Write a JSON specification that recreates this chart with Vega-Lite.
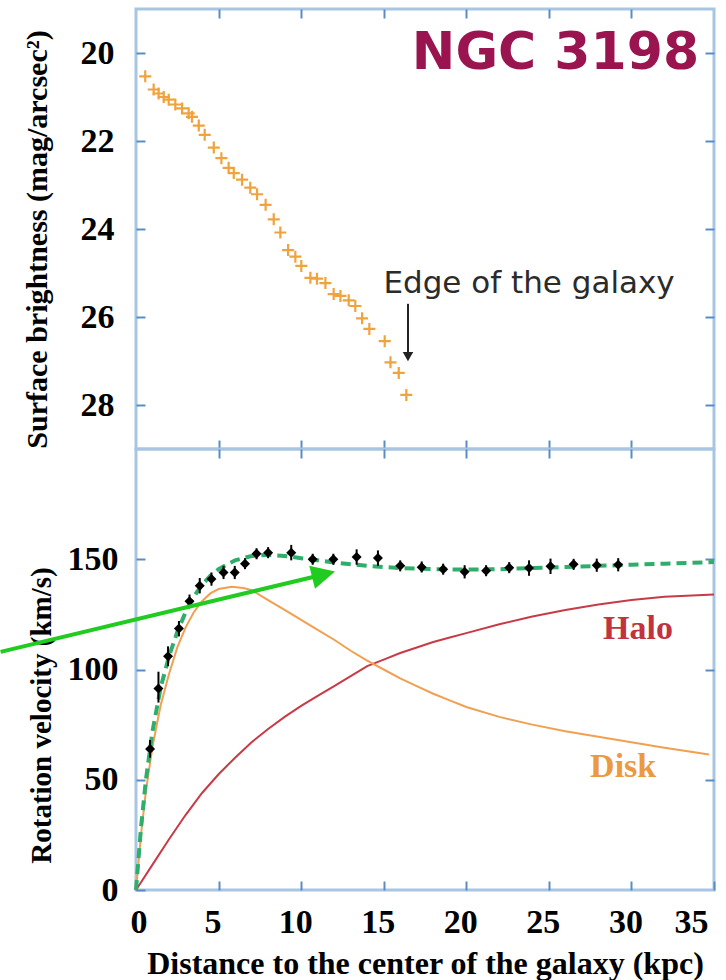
{
  "$schema": "https://vega.github.io/schema/vega-lite/v6.json",
  "padding": {"left": -9, "top": 6, "right": 0, "bottom": 0},
  "spacing": 0,
  "bounds": "flush",
  "config": {
    "view": {"stroke": "#a8c5e3", "strokeWidth": 3},
    "axis": {
      "domain": false, "grid": false,
      "tickColor": "#5a8cc4", "tickWidth": 2, "tickSize": -9,
      "labelFont": "Liberation Serif", "labelFontWeight": "bold", "labelFontSize": 34, "labelColor": "#000000",
      "titleFont": "Liberation Serif", "titleFontWeight": "bold", "titleFontSize": 30, "titleColor": "#000000"
    }
  },
  "datasets": {
    "sb": [
      {"r": 0.56, "mu": 20.53}, {"r": 1.07, "mu": 20.83}, {"r": 1.37, "mu": 20.92}, {"r": 1.68, "mu": 21.0},
      {"r": 1.98, "mu": 21.06}, {"r": 2.38, "mu": 21.17}, {"r": 2.79, "mu": 21.26}, {"r": 3.19, "mu": 21.37},
      {"r": 3.39, "mu": 21.45}, {"r": 3.8, "mu": 21.65}, {"r": 4.16, "mu": 21.86}, {"r": 4.71, "mu": 22.15},
      {"r": 5.17, "mu": 22.39}, {"r": 5.61, "mu": 22.61}, {"r": 5.92, "mu": 22.73}, {"r": 6.42, "mu": 22.88},
      {"r": 6.92, "mu": 23.06}, {"r": 7.33, "mu": 23.21}, {"r": 7.85, "mu": 23.45}, {"r": 8.34, "mu": 23.78},
      {"r": 8.74, "mu": 24.08}, {"r": 9.21, "mu": 24.48}, {"r": 9.65, "mu": 24.63}, {"r": 10.01, "mu": 24.84},
      {"r": 10.56, "mu": 25.11}, {"r": 10.96, "mu": 25.13}, {"r": 11.47, "mu": 25.23}, {"r": 11.97, "mu": 25.48},
      {"r": 12.38, "mu": 25.52}, {"r": 12.88, "mu": 25.62}, {"r": 13.28, "mu": 25.75}, {"r": 13.69, "mu": 26.03},
      {"r": 14.13, "mu": 26.27}, {"r": 15.06, "mu": 26.55}, {"r": 15.41, "mu": 27.03}, {"r": 15.91, "mu": 27.27},
      {"r": 16.37, "mu": 27.77}
    ],
    "vel": [
      {"r": 0.85, "v": 64, "lo": 60, "hi": 68}, {"r": 1.36, "v": 91.4, "lo": 85, "hi": 99},
      {"r": 1.94, "v": 106, "lo": 101.5, "hi": 110.5}, {"r": 2.6, "v": 118.6, "lo": 115, "hi": 122},
      {"r": 3.24, "v": 131, "lo": 128, "hi": 134}, {"r": 3.86, "v": 138, "lo": 134.5, "hi": 141.5},
      {"r": 4.57, "v": 141, "lo": 138, "hi": 144}, {"r": 5.3, "v": 144, "lo": 141, "hi": 147},
      {"r": 5.98, "v": 144, "lo": 141, "hi": 147}, {"r": 6.6, "v": 148, "lo": 145.5, "hi": 150.5},
      {"r": 7.3, "v": 152.5, "lo": 150, "hi": 155}, {"r": 8.0, "v": 153, "lo": 150.5, "hi": 155.5},
      {"r": 9.4, "v": 153, "lo": 149.5, "hi": 156.5}, {"r": 10.7, "v": 150, "lo": 147.5, "hi": 152.5},
      {"r": 11.95, "v": 150, "lo": 147.5, "hi": 152.5}, {"r": 13.36, "v": 151, "lo": 147.5, "hi": 154.5},
      {"r": 14.65, "v": 150.6, "lo": 147, "hi": 154}, {"r": 16.0, "v": 147, "lo": 144.5, "hi": 149.5},
      {"r": 17.3, "v": 146.4, "lo": 144, "hi": 149}, {"r": 18.6, "v": 145.5, "lo": 143, "hi": 148},
      {"r": 19.9, "v": 144.3, "lo": 141.3, "hi": 147.3}, {"r": 21.2, "v": 144.8, "lo": 142.3, "hi": 147.3},
      {"r": 22.6, "v": 146.2, "lo": 143.7, "hi": 148.7}, {"r": 23.8, "v": 146, "lo": 142.5, "hi": 149.5},
      {"r": 25.1, "v": 146.8, "lo": 143.3, "hi": 150.3}, {"r": 26.5, "v": 147.7, "lo": 145.2, "hi": 150.2},
      {"r": 27.9, "v": 147.3, "lo": 144.3, "hi": 150.3}, {"r": 29.2, "v": 147.5, "lo": 144.5, "hi": 150.5}
    ],
    "halo": [
      {"r": 0, "v": 0}, {"r": 1, "v": 11.5}, {"r": 2, "v": 23}, {"r": 3, "v": 34}, {"r": 4, "v": 44},
      {"r": 5, "v": 52.5}, {"r": 6, "v": 60}, {"r": 7, "v": 67}, {"r": 8, "v": 73}, {"r": 9, "v": 78.5},
      {"r": 10, "v": 83.5}, {"r": 11, "v": 88}, {"r": 12, "v": 92.5}, {"r": 13, "v": 97}, {"r": 14, "v": 101.5},
      {"r": 15, "v": 104.5}, {"r": 16, "v": 107.5}, {"r": 17, "v": 110}, {"r": 18, "v": 112.5}, {"r": 19, "v": 114.5},
      {"r": 20, "v": 116.5}, {"r": 22, "v": 120.5}, {"r": 24, "v": 124}, {"r": 26, "v": 127}, {"r": 28, "v": 129.5},
      {"r": 30, "v": 131.5}, {"r": 32, "v": 133}, {"r": 35, "v": 134}
    ],
    "disk": [
      {"r": 0, "v": 0}, {"r": 0.3, "v": 25}, {"r": 0.6, "v": 45}, {"r": 1, "v": 65}, {"r": 1.5, "v": 84},
      {"r": 2, "v": 98}, {"r": 2.5, "v": 110}, {"r": 3, "v": 119}, {"r": 3.5, "v": 126}, {"r": 4, "v": 131},
      {"r": 4.5, "v": 134.5}, {"r": 5, "v": 136.5}, {"r": 5.8, "v": 137.5}, {"r": 6.5, "v": 137}, {"r": 7, "v": 136},
      {"r": 8, "v": 131.5}, {"r": 9, "v": 127}, {"r": 10, "v": 122.5}, {"r": 11, "v": 118}, {"r": 12, "v": 113.5},
      {"r": 13, "v": 108.5}, {"r": 14, "v": 104}, {"r": 15, "v": 100}, {"r": 16, "v": 96}, {"r": 17, "v": 92.5},
      {"r": 18, "v": 89}, {"r": 19, "v": 86}, {"r": 20, "v": 83}, {"r": 22, "v": 78.5}, {"r": 24, "v": 75},
      {"r": 26, "v": 72}, {"r": 28, "v": 69.5}, {"r": 30, "v": 67}, {"r": 32, "v": 64.5}, {"r": 34.7, "v": 61.5}
    ],
    "fit": [
      {"r": 0, "v": 0}, {"r": 0.3, "v": 28}, {"r": 0.6, "v": 50}, {"r": 1, "v": 72}, {"r": 1.5, "v": 92},
      {"r": 2, "v": 106}, {"r": 2.5, "v": 117}, {"r": 3, "v": 126}, {"r": 3.5, "v": 133}, {"r": 4, "v": 138.5},
      {"r": 4.5, "v": 142.5}, {"r": 5, "v": 145.5}, {"r": 6, "v": 149.5}, {"r": 7, "v": 151.5}, {"r": 8, "v": 152},
      {"r": 9, "v": 151.5}, {"r": 10, "v": 150.5}, {"r": 11, "v": 149.5}, {"r": 12, "v": 148.5}, {"r": 14, "v": 147},
      {"r": 16, "v": 146}, {"r": 18, "v": 145.5}, {"r": 20, "v": 145.3}, {"r": 22, "v": 145.5}, {"r": 24, "v": 146},
      {"r": 26, "v": 146.5}, {"r": 28, "v": 147}, {"r": 30, "v": 147.5}, {"r": 32, "v": 148}, {"r": 35, "v": 148.7}
    ],
    "arrow": [{"r": -8.2, "v": 108.0}, {"r": 11.36, "v": 143.1}],
    "arrowhead": [{"r": 11.36, "v": 143.1}],
    "complabels": [
      {"r": 30.4, "v": 118.5, "t": "Halo", "c": "Halo"},
      {"r": 29.5, "v": 56, "t": "Disk", "c": "Disk"}
    ],
    "title": [{"r": 25.4, "mu": 20.0, "t": "NGC 3198"}],
    "edge": [{"r": 23.8, "mu": 25.25, "t": "Edge of the galaxy"}],
    "edgearrow": [{"r": 16.47, "mu": 25.7, "mu2": 26.8}],
    "edgehead": [{"r": 16.47, "mu": 26.9}]
  },
  "vconcat": [
    {
      "width": 578,
      "height": 440,
      "layer": [
        {
          "data": {"name": "sb"},
          "mark": {"type": "point", "shape": "M-1,0L1,0M0,-1L0,1", "filled": false, "stroke": "#f0a23c", "strokeWidth": 2.2, "size": 144, "opacity": 1},
          "encoding": {
            "x": {"field": "r", "type": "quantitative", "scale": {"domain": [0, 35], "nice": false, "zero": false},
                  "axis": {"orient": "bottom", "values": [5, 10, 15, 20, 25, 30], "labels": false, "title": null}},
            "y": {"field": "mu", "type": "quantitative", "scale": {"domain": [19, 29], "reverse": true, "nice": false, "zero": false},
                  "axis": {"orient": "left", "values": [20, 22, 24, 26, 28], "title": "Surface brightness (mag/arcsec²)", "labelPadding": 31, "titlePadding": 28, "titleY": 230}}
          }
        },
        {
          "data": {"name": "title"},
          "mark": {"type": "text", "font": "DejaVu Sans", "fontWeight": "bold", "fontSize": 52, "color": "#9a1550", "align": "center", "baseline": "middle"},
          "encoding": {
            "x": {"field": "r", "type": "quantitative", "axis": {"orient": "top", "values": [5, 10, 15, 20, 25, 30], "labels": false, "title": null}},
            "y": {"field": "mu", "type": "quantitative", "axis": {"orient": "right", "values": [20, 22, 24, 26, 28], "labels": false, "title": null}},
            "text": {"field": "t"}
          }
        },
        {
          "data": {"name": "edge"},
          "mark": {"type": "text", "font": "DejaVu Sans", "fontSize": 31, "color": "#2b2b2b", "align": "center", "baseline": "middle"},
          "encoding": {
            "x": {"field": "r", "type": "quantitative", "axis": null},
            "y": {"field": "mu", "type": "quantitative", "axis": null},
            "text": {"field": "t"}
          }
        },
        {
          "data": {"name": "edgearrow"},
          "mark": {"type": "rule", "color": "#222222", "strokeWidth": 2},
          "encoding": {
            "x": {"field": "r", "type": "quantitative", "axis": null},
            "y": {"field": "mu", "type": "quantitative", "axis": null},
            "y2": {"field": "mu2"}
          }
        },
        {
          "data": {"name": "edgehead"},
          "mark": {"type": "point", "shape": "triangle-down", "filled": true, "color": "#222222", "size": 110, "opacity": 1},
          "encoding": {
            "x": {"field": "r", "type": "quantitative", "axis": null},
            "y": {"field": "mu", "type": "quantitative", "axis": null}
          }
        }
      ],
      "resolve": {"axis": {"x": "independent", "y": "independent"}}
    },
    {
      "width": 578,
      "height": 441,
      "layer": [
        {
          "data": {"name": "halo"},
          "mark": {"type": "line", "color": "#c83a46", "strokeWidth": 2},
          "encoding": {
            "x": {"field": "r", "type": "quantitative", "scale": {"domain": [0, 35], "nice": false, "zero": false},
                  "axis": {"orient": "bottom", "values": [0, 5, 10, 15, 20, 25, 30, 35], "title": "Distance to the center of the galaxy (kpc)", "labelPadding": 24, "labelOffset": -6, "titlePadding": 9, "titleFontSize": 32}},
            "y": {"field": "v", "type": "quantitative", "scale": {"domain": [0, 200], "nice": false},
                  "axis": {"orient": "left", "values": [0, 50, 100, 150], "title": "Rotation velocity (km/s)", "labelPadding": 27, "titlePadding": 11, "titleFontSize": 29, "titleY": 266}}
          }
        },
        {
          "data": {"name": "disk"},
          "mark": {"type": "line", "color": "#f0a050", "strokeWidth": 2},
          "encoding": {
            "x": {"field": "r", "type": "quantitative", "axis": null},
            "y": {"field": "v", "type": "quantitative", "axis": null}
          }
        },
        {
          "data": {"name": "fit"},
          "mark": {"type": "line", "color": "#2fae6b", "strokeWidth": 4, "strokeDash": [10, 6]},
          "encoding": {
            "x": {"field": "r", "type": "quantitative", "axis": null},
            "y": {"field": "v", "type": "quantitative", "axis": null}
          }
        },
        {
          "data": {"name": "vel"},
          "mark": {"type": "rule", "color": "#000000", "strokeWidth": 2},
          "encoding": {
            "x": {"field": "r", "type": "quantitative", "axis": null},
            "y": {"field": "lo", "type": "quantitative", "axis": null},
            "y2": {"field": "hi"}
          }
        },
        {
          "data": {"name": "vel"},
          "mark": {"type": "point", "shape": "diamond", "filled": true, "color": "#000000", "size": 100, "opacity": 1},
          "encoding": {
            "x": {"field": "r", "type": "quantitative", "axis": null},
            "y": {"field": "v", "type": "quantitative", "axis": null}
          }
        },
        {
          "data": {"name": "complabels"},
          "mark": {"type": "text", "font": "Liberation Serif", "fontWeight": "bold", "fontSize": 34, "align": "center", "baseline": "middle"},
          "encoding": {
            "x": {"field": "r", "type": "quantitative", "axis": {"orient": "top", "values": [5, 10, 15, 20, 25, 30], "labels": false, "title": null}},
            "y": {"field": "v", "type": "quantitative", "axis": {"orient": "right", "values": [50, 100, 150], "labels": false, "title": null}},
            "text": {"field": "t"},
            "color": {"field": "c", "type": "nominal", "scale": {"domain": ["Halo", "Disk"], "range": ["#c0333f", "#eb9a3f"]}, "legend": null}
          }
        },
        {
          "data": {"name": "arrow"},
          "mark": {"type": "line", "color": "#1fcc1f", "strokeWidth": 4},
          "encoding": {
            "x": {"field": "r", "type": "quantitative", "axis": null},
            "y": {"field": "v", "type": "quantitative", "axis": null}
          }
        },
        {
          "data": {"name": "arrowhead"},
          "mark": {"type": "point", "shape": "M-1,-1L1,0L-1,1Z", "filled": true, "color": "#1fcc1f", "size": 560, "angle": 346, "opacity": 1},
          "encoding": {
            "x": {"field": "r", "type": "quantitative", "axis": null},
            "y": {"field": "v", "type": "quantitative", "axis": null}
          }
        }
      ],
      "resolve": {"axis": {"x": "independent", "y": "independent"}}
    }
  ]
}
